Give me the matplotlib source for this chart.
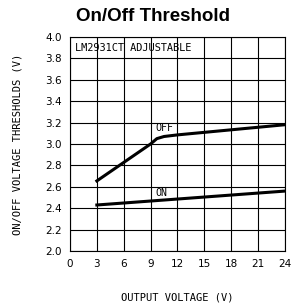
import matplotlib
matplotlib.use("Agg")
import matplotlib.pyplot as plt

# data
off_x = [3, 9, 9.7, 10.5, 12, 24]
off_y = [2.655, 3.0, 3.05, 3.07, 3.085, 3.18]
on_x = [3, 24]
on_y = [2.43, 2.56]

x_ticks = [0, 3, 6, 9, 12, 15, 18, 21, 24]
y_ticks = [2.0, 2.2, 2.4, 2.6, 2.8, 3.0, 3.2, 3.4, 3.6, 3.8, 4.0]

mono = "DejaVu Sans Mono"

fig = plt.figure(figsize=(2.91, 3.08), dpi=100)
ax = fig.add_axes([0.2405, 0.185, 0.7385, 0.695])

ax.plot(off_x, off_y, color="black", linewidth=2.2)
ax.plot(on_x, on_y, color="black", linewidth=2.2)

ax.set_xlim(0, 24)
ax.set_ylim(2.0, 4.0)
ax.set_xticks(x_ticks)
ax.set_yticks(y_ticks)
ax.set_xticklabels([str(t) for t in x_ticks])
ax.set_yticklabels(["%.1f" % t for t in y_ticks])
ax.tick_params(length=0, labelsize=7.5, pad=6)
ax.grid(True, color="black", linewidth=0.8)
for s in ax.spines.values():
    s.set_linewidth(0.8)

ax.text(9.5, 3.12, "OFF", fontsize=7.2, family=mono)
ax.text(9.5, 2.515, "ON", fontsize=7.2, family=mono)
ax.text(0.6, 3.9, "LM2931CT ADJUSTABLE", fontsize=7.4, family=mono, va="center")

ax.set_xlabel("OUTPUT VOLTAGE (V)", fontsize=7.5, family=mono, labelpad=17)
ax.set_ylabel("ON/OFF VOLTAGE THRESHOLDS (V)", fontsize=7.5, family=mono, labelpad=16)

fig.text(0.525, 0.945, "On/Off Threshold", fontsize=13.5, fontweight="bold",
         family="Liberation Sans", ha="center", va="center")

fig.savefig("out.png", dpi=100)
